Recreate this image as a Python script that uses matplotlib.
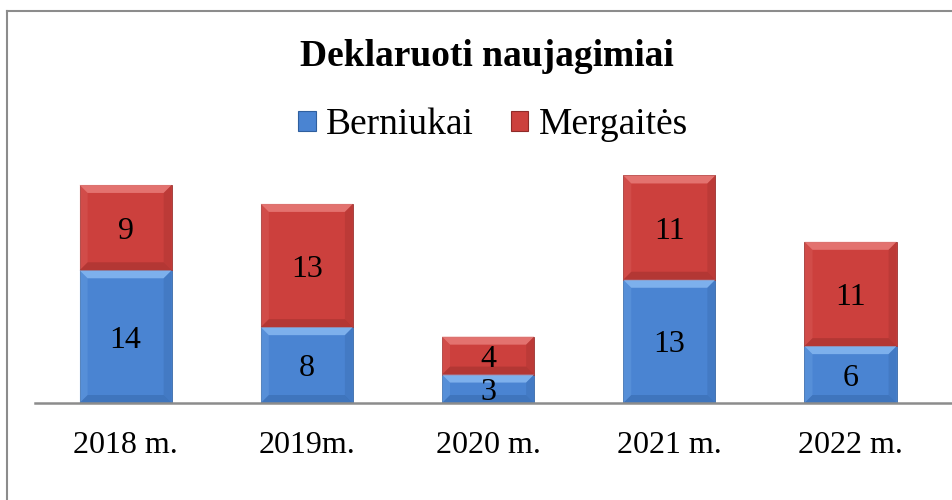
import matplotlib
matplotlib.use("Agg")
import matplotlib.pyplot as plt
from matplotlib.patches import Polygon, Rectangle
from matplotlib.lines import Line2D

years = ["2018 m.", "2019m.", "2020 m.", "2021 m.", "2022 m."]
berniukai = [14, 8, 3, 13, 6]
mergaites = [9, 13, 4, 11, 11]

plt.rcParams['font.family'] = ['Liberation Serif', 'DejaVu Serif']

blue = "#4a84d2"
blue_hi = "#8bbcf3"
blue_lo = "#2f5f9e"
red = "#cc403d"
red_hi = "#ea7f7c"
red_lo = "#8f2a28"

fig = plt.figure(figsize=(9.52, 5.0), dpi=100)
ax = fig.add_axes([35/952, 0.194, 1 - 35/952, 0.493])

x = list(range(len(years)))
b1 = ax.bar(x, berniukai, width=0.508, color=blue, edgecolor="#3a6aa8", linewidth=0.6)
b2 = ax.bar(x, mergaites, width=0.508, bottom=berniukai, color=red, edgecolor="#9c3432", linewidth=0.6)

ax.set_xlim(-0.5, 4.56)
ax.set_ylim(0, 26)

# bevel look: pixel sizes to data units
fig.canvas.draw()
bb = ax.get_window_extent()
px_x = (4.56 + 0.5) / bb.width
px_y = 26 / bb.height
bev = 8

def bevel(p, hi, lo):
    x0, y0 = p.get_x(), p.get_y()
    w, h = p.get_width(), p.get_height()
    dx, dy = bev * px_x, min(bev * px_y, h / 3)
    x1, y1 = x0 + w, y0 + h
    ax.add_patch(Polygon([(x0, y1), (x1, y1), (x1 - dx, y1 - dy), (x0 + dx, y1 - dy)],
                         closed=True, color=hi, lw=0, alpha=0.8))
    ax.add_patch(Polygon([(x0, y0), (x1, y0), (x1 - dx, y0 + dy), (x0 + dx, y0 + dy)],
                         closed=True, color=lo, lw=0, alpha=0.4))
    ax.add_patch(Polygon([(x0, y0), (x0, y1), (x0 + dx, y1 - dy), (x0 + dx, y0 + dy)],
                         closed=True, color=hi, lw=0, alpha=0.2))
    ax.add_patch(Polygon([(x1, y0), (x1, y1), (x1 - dx, y1 - dy), (x1 - dx, y0 + dy)],
                         closed=True, color=lo, lw=0, alpha=0.25))

for p in b1:
    bevel(p, blue_hi, blue_lo)
for p in b2:
    bevel(p, red_hi, red_lo)

for i in x:
    ax.text(i, berniukai[i] / 2, str(berniukai[i]), ha="center", va="center_baseline", fontsize=23)
    ax.text(i, berniukai[i] + mergaites[i] / 2, str(mergaites[i]), ha="center",
            va="center_baseline", fontsize=23)

for s in ["top", "right", "left"]:
    ax.spines[s].set_visible(False)
ax.spines["bottom"].set_color("#8c8c8c")
ax.spines["bottom"].set_linewidth(1.8)
ax.set_yticks([])
ax.set_xticks(x)
ax.set_xticklabels(years, fontsize=23)
ax.tick_params(axis="x", length=0, pad=20)

fig.text(487/952, 1 - 56/500, "Deklaruoti naujagimiai", ha="center", va="center",
         fontsize=27, fontweight="bold")

handles = [Rectangle((0, 0), 1, 1, facecolor=blue, edgecolor=blue_lo, lw=0.8),
           Rectangle((0, 0), 1, 1, facecolor=red, edgecolor=red_lo, lw=0.8)]
fig.legend(handles, ["Berniukai", "Mergaitės"], loc="center", bbox_to_anchor=(493/952, 1 - 125/500),
           ncol=2, frameon=False, fontsize=27, handlelength=0.46, handleheight=0.46,
           handletextpad=0.27, columnspacing=1.0)

# outer frame
fig.add_artist(Line2D([7/952, 7/952], [0, 1 - 11/500], color="#8c8c8c", lw=1.5))
fig.add_artist(Line2D([7/952, 1], [1 - 11/500, 1 - 11/500], color="#8c8c8c", lw=1.5))

fig.savefig("out.png", dpi=100)
